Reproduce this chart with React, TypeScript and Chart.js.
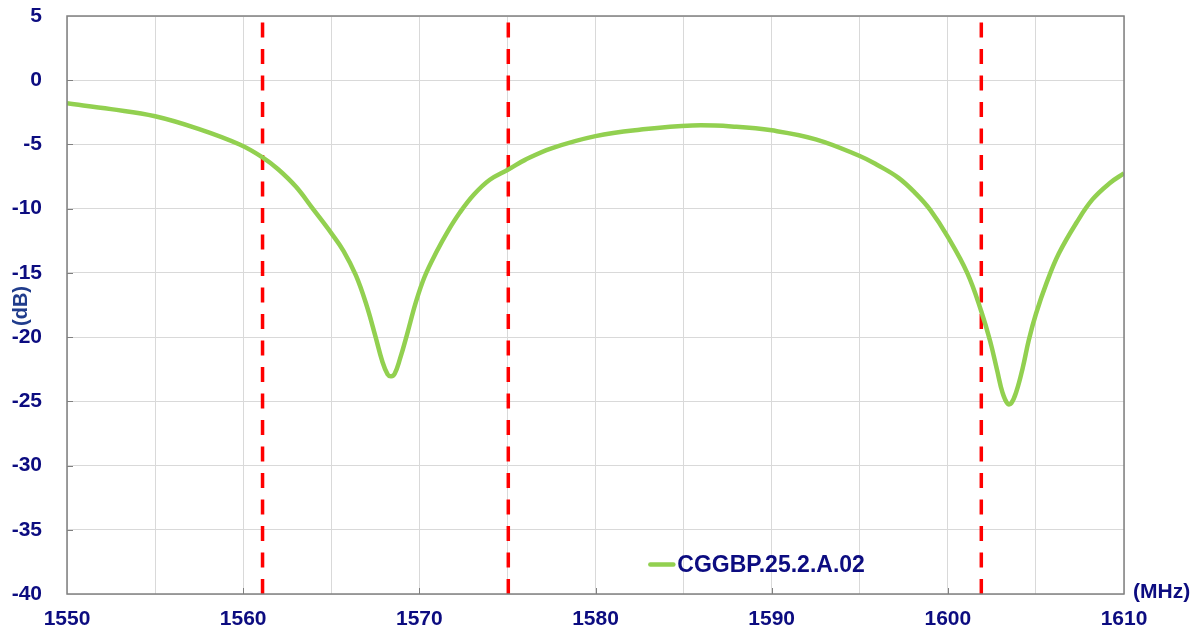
import { useEffect, useRef } from 'react';
import { Chart, registerables } from 'chart.js';

Chart.register(...registerables);

// Frequency (MHz) and response (dB)
const freqMHz = [
  1550, 1552.5, 1555, 1557.5, 1559.8, 1561.1, 1562, 1563, 1563.95, 1565, 1565.7, 1566.4,
  1567, 1567.5, 1567.9, 1568.2, 1568.4, 1568.6, 1568.9, 1569.3, 1569.8, 1570.3, 1571, 1571.6,
  1572.3, 1573.1, 1574, 1575.05, 1576, 1577.5, 1580, 1582.5, 1585.5, 1588, 1590, 1592.5,
  1595, 1596, 1597.2, 1598.2, 1599, 1600, 1601.1, 1601.9, 1602.4, 1602.8, 1603.1, 1603.4,
  1603.6, 1603.9, 1604.25, 1604.6, 1605, 1605.6, 1606.3, 1607.3, 1608.2, 1609.2, 1610,
];
const responseDB = [
  -1.8, -2.25, -2.8, -3.8, -5.0, -6.0, -6.95, -8.3, -10, -11.9, -13.3, -15.2,
  -17.5, -19.9, -21.9, -22.9, -23.05, -22.85, -21.7, -19.8, -17.3, -15.3, -13.3, -11.8,
  -10.3, -8.9, -7.75, -6.95, -6.2, -5.3, -4.35, -3.85, -3.52, -3.62, -3.9, -4.6,
  -5.9, -6.6, -7.6, -8.85, -10.1, -12.2, -15, -18.0, -20.3, -22.6, -24.3, -25.2,
  -25.15, -24.2, -22.4, -20.2, -18.2, -15.8, -13.5, -11.1, -9.3, -8.0, -7.25,
];
// Red dashed marker frequencies (MHz)
const markerFreqs = [1561.1, 1575.05, 1601.9];
const markerRange = [4.5, -40];

const seriesLabel = 'CGGBP.25.2.A.02';
const xTitle = '(MHz)';
const yTitle = '(dB)';
const xMin = 1550;
const xMax = 1610;
const yMin = -40;
const yMax = 5;

const FONT = '"Liberation Sans", Arial, sans-serif';
const NAVY = '#0c0c80';

const decorPlugin = {
  id: 'decor',
  afterDatasetsDraw(chart: any) {
    const { ctx, chartArea: a, scales } = chart;
    const xs = scales.x;
    const ys = scales.y;
    ctx.save();
    ctx.strokeStyle = '#808080';
    ctx.lineWidth = 1;
    ctx.beginPath();
    for (let v = xMin + 10; v < xMax; v += 10) {
      const px = Math.round(xs.getPixelForValue(v)) + 0.5;
      ctx.moveTo(px, a.bottom);
      ctx.lineTo(px, a.bottom - 6);
    }
    for (let v = yMin + 5; v < yMax; v += 5) {
      const py = Math.round(ys.getPixelForValue(v)) + 0.5;
      ctx.moveTo(a.left, py);
      ctx.lineTo(a.left + 6, py);
    }
    ctx.stroke();
    ctx.lineWidth = 1.5;
    ctx.strokeRect(a.left, a.top, a.right - a.left, a.bottom - a.top);
    ctx.restore();
  },
  afterDraw(chart: any, _args: any, opts: any) {
    const { ctx, chartArea: a, scales } = chart;
    const xs = scales.x;
    const ys = scales.y;
    ctx.save();
    ctx.fillStyle = NAVY;
    ctx.font = `bold 21px ${FONT}`;
    ctx.textAlign = 'left';
    ctx.textBaseline = 'middle';
    ctx.fillText(xTitle, a.right + 9, a.bottom - 2);
    ctx.save();
    ctx.translate(21, (a.top + a.bottom) / 2 + 1);
    ctx.rotate(-Math.PI / 2);
    ctx.textAlign = 'center';
    ctx.textBaseline = 'middle';
    ctx.fillStyle = '#203c8c';
    ctx.font = `bold 20px ${FONT}`;
    ctx.fillText(yTitle, 0, 0);
    ctx.restore();
    const lx = xs.getPixelForValue(opts.legendX);
    const ly = ys.getPixelForValue(opts.legendY);
    ctx.strokeStyle = chart.data.datasets[0].borderColor;
    ctx.lineWidth = 4.5;
    ctx.lineCap = 'round';
    ctx.beginPath();
    ctx.moveTo(lx + 2, ly);
    ctx.lineTo(lx + 25, ly);
    ctx.stroke();
    ctx.fillStyle = NAVY;
    ctx.font = `bold 23px ${FONT}`;
    ctx.textAlign = 'left';
    ctx.textBaseline = 'middle';
    ctx.fillText(chart.data.datasets[0].label, lx + 29, ly + 1);
    ctx.restore();
  },
};

export default function App() {
  const ref = useRef<HTMLCanvasElement>(null);
  useEffect(() => {
    document.body.style.margin = '0';
    const markerSets = markerFreqs.map((f) => ({
      label: `marker ${f}`,
      data: markerRange.map((y) => ({ x: f, y })),
      borderColor: '#ff0000',
      borderWidth: 3.5,
      borderDash: [15, 11.5],
      pointRadius: 0,
      tension: 0,
      fill: false,
    }));
    const chart = new Chart(ref.current!, {
      type: 'line',
      data: {
        datasets: [
          {
            label: seriesLabel,
            data: freqMHz.map((f, i) => ({ x: f, y: responseDB[i] })),
            borderColor: '#92d050',
            borderWidth: 4.5,
            pointRadius: 0,
            tension: 0.4,
            borderJoinStyle: 'round',
            fill: false,
          },
          ...markerSets,
        ],
      },
      options: {
        animation: false,
        responsive: true,
        maintainAspectRatio: false,
        layout: { padding: { left: 0, right: 79, top: 16, bottom: 0 } },
        plugins: {
          legend: { display: false },
          tooltip: { enabled: false },
          decor: { legendX: 1583.0, legendY: -37.7 },
        } as any,
        scales: {
          x: {
            type: 'linear',
            min: xMin,
            max: xMax,
            afterFit: (s: any) => {
              s.height = 40;
              s.paddingLeft = 0;
              s.paddingRight = 0;
            },
            border: { display: false },
            grid: { color: '#d9d9d9', lineWidth: 1, drawTicks: false },
            ticks: {
              stepSize: 5,
              autoSkip: false,
              maxRotation: 0,
              padding: 13,
              color: NAVY,
              font: { family: FONT, size: 21, weight: 'bold' },
              callback: (v: any) => (Number(v) % 10 === 0 ? String(v) : ''),
            },
          },
          y: {
            type: 'linear',
            min: yMin,
            max: yMax,
            afterFit: (s: any) => {
              s.width = 67;
              s.paddingTop = 0;
              s.paddingBottom = 0;
            },
            border: { display: false },
            grid: { color: '#d9d9d9', lineWidth: 1, drawTicks: false },
            ticks: {
              stepSize: 5,
              padding: 25,
              color: NAVY,
              font: { family: FONT, size: 21, weight: 'bold' },
            },
          },
        },
      },
      plugins: [decorPlugin],
    } as any);
    return () => chart.destroy();
  }, []);
  return (
    <div style={{ width: 1203, height: 634, position: 'relative' }}>
      <canvas ref={ref} />
    </div>
  );
}
